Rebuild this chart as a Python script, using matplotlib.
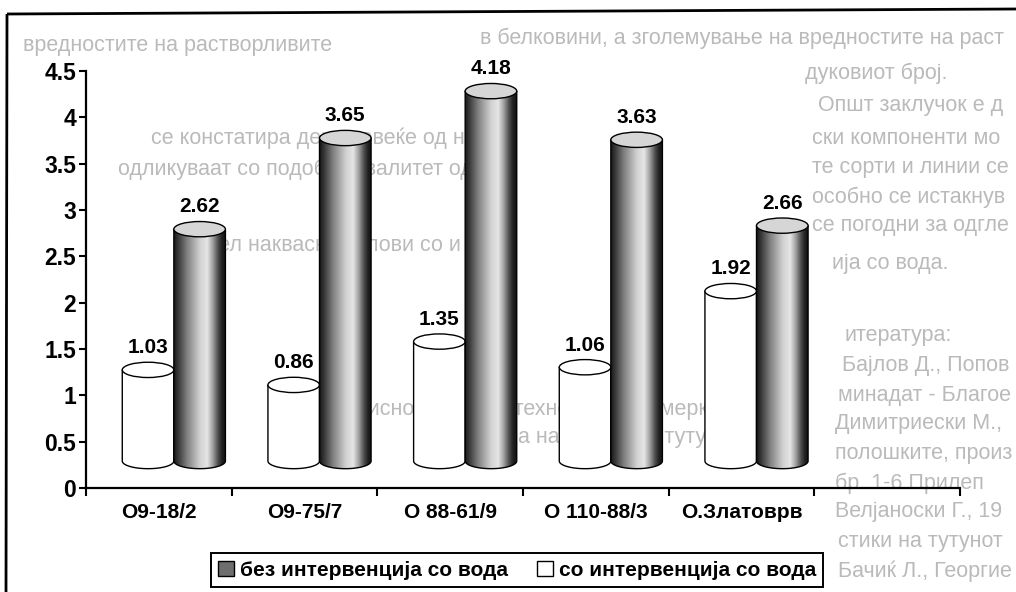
import numpy as np
import matplotlib
matplotlib.use("Agg")
import matplotlib.pyplot as plt
from matplotlib.patches import Ellipse, PathPatch, Patch
from matplotlib.path import Path
from matplotlib.colors import LinearSegmentedColormap

# ---- data -------------------------------------------------------------
categories = ["O9-18/2", "O9-75/7", "O 88-61/9", "O 110-88/3", "O.Златоврв"]
without_water = [2.62, 3.65, 4.18, 3.63, 2.66]   # без интервенција со вода
with_water = [1.03, 0.86, 1.35, 1.06, 1.92]      # со интервенција со вода
series_labels = ["без интервенција со вода", "со интервенција со вода"]
y_ticks = [0, 0.5, 1, 1.5, 2, 2.5, 3, 3.5, 4, 4.5]
y_tick_labels = ["0", "0.5", "1", "1.5", "2", "2.5", "3", "3.5", "4", "4.5"]

# ---- style / projection constants -----------------------------------
N_SLOTS = 6            # category axis keeps one empty slot at the end
CYL_W = 0.354          # cylinder width (category units)
DEPTH_DX = 0.103       # sideways shift of the 3-D floor
DEPTH_DY = 0.291       # upward shift of the 3-D floor (value units)
HEIGHT_SCALE = 0.955   # value scale on the bar plane
ELL_H = 0.165          # height of the end ellipses (value units)
FONT = "Liberation Sans"
GHOST = "#bababa"

plt.rcParams["font.family"] = [FONT, "DejaVu Sans"]

fig = plt.figure(figsize=(10.16, 5.92), dpi=100)
fig.patch.set_facecolor("white")

# background layer in pixel coordinates (page text and frame)
bg = fig.add_axes([0, 0, 1, 1], zorder=0)
bg.set_xlim(0, 1016)
bg.set_ylim(592, 0)
bg.axis("off")

page_lines = [
    (480, 38, "в белковини, а зголемување на вредностите на растворливите", "left"),
    (805, 73, "дуковиот број.", "left"),
    (818, 106, "Општ заклучок е дека врз основа на вредностите", "left"),
    (812, 138, "ски компоненти може да се констатира", "left"),
    (812, 167, "те сорти и линии се одликуваат", "left"),
    (812, 197, "особно се истакнуваат перспективните", "left"),
    (812, 226, "се погодни за одгледување", "left"),
    (832, 264, "ија со вода.", "left"),
    (845, 336, "итература:", "left"),
    (842, 366, "Бајлов Д., Попов М., 1993.", "left"),
    (838, 395, "минадат - Благоевград", "left"),
    (835, 424, "Димитриески М., Н., Г. 1992.", "left"),
    (835, 453, "полошките, производството", "left"),
    (835, 483, "бр. 1-6 Прилеп", "left"),
    (835, 511, "Велјаноски Г., 1979.", "left"),
    (838, 541, "стики на тутунот сорта „Мак“", "left"),
    (838, 571, "Бачиќ Л., Георгиевски", "left"),
    (23, 45, "вредностите на растворливите", "left"),
    (500, 138, "се констатира дека повеќе од ново", "right"),
    (500, 169, "одликуваат со подобар квалитет од ст", "right"),
    (500, 245, "на дел наквасно услови со и без", "right"),
    (720, 410, "1992. Зависност на агротехнолошките мерки", "right"),
    (760, 437, "со примена на различни тутуни од", "right"),
]
page_texts = []
for px, py, txt, ha in page_lines:
    page_texts.append(bg.text(px, py, txt, ha=ha, va="center", fontsize=15.5,
                              color=GHOST, family=[FONT, "DejaVu Sans"]))

# scanned frame around the chart
bg.plot([7, 1016], [14, 9], color="black", lw=2.0, solid_capstyle="butt")
bg.plot([7, 6], [14, 592], color="black", lw=2.0, solid_capstyle="butt")

# ---- chart axes -------------------------------------------------------
ax = fig.add_axes([86 / 1016, 104 / 592, 874 / 1016, 417 / 592], zorder=1)
ax.patch.set_alpha(0)
ax.set_xlim(0, N_SLOTS)
ax.set_ylim(0, 4.5)

for side in ("top", "right"):
    ax.spines[side].set_visible(False)
for side in ("left", "bottom"):
    ax.spines[side].set_linewidth(1.6)
    ax.spines[side].set_color("black")

ax.set_yticks(y_ticks)
ax.set_yticklabels(y_tick_labels, fontsize=16.5, fontweight="bold")
ax.tick_params(axis="y", direction="out", length=5, width=1.5, pad=2)

ax.set_xticks(np.arange(N_SLOTS + 1))
ax.set_xticklabels([])
ax.tick_params(axis="x", which="major", direction="out", length=6, width=1.5)
ax.set_xticks(np.arange(len(categories)) + 0.5, minor=True)
ax.set_xticklabels(categories, minor=True, fontsize=15, fontweight="bold")
ax.tick_params(axis="x", which="minor", length=0, pad=11)

# shading for the dark cylinders (left rim dark, highlight right of centre)
stops = [0.0, 0.08, 0.25, 0.5, 0.64, 0.75, 0.85, 0.93, 1.0]
levels = [0.10, 0.22, 0.50, 0.82, 0.90, 0.62, 0.30, 0.12, 0.08]
shade_cmap = LinearSegmentedColormap.from_list(
    "cyl", [(s, (g, g, g)) for s, g in zip(stops, levels)])
shade_img = np.linspace(0, 1, 256)[None, :]


def cylinder(x0, value, shaded, z):
    x1 = x0 + CYL_W
    xc = x0 + CYL_W / 2
    base = DEPTH_DY
    top = DEPTH_DY + HEIGHT_SCALE * value
    hh = ELL_H / 2
    t = np.linspace(0, -np.pi, 80)
    arc = list(zip(xc + CYL_W / 2 * np.cos(t), base + hh * np.sin(t)))
    verts = [(x0, top), (x1, top)] + arc + [(x0, top)]
    codes = [Path.MOVETO] + [Path.LINETO] * (len(verts) - 2) + [Path.CLOSEPOLY]
    body_path = Path(verts, codes)

    if shaded:
        clip = PathPatch(body_path, facecolor="none", edgecolor="none",
                         transform=ax.transData)
        ax.add_patch(clip)
        im = ax.imshow(shade_img, cmap=shade_cmap, vmin=0, vmax=1,
                       extent=[x0, x1, base - hh, top], aspect="auto",
                       interpolation="bilinear", zorder=z)
        im.set_clip_path(clip)
        ax.add_patch(PathPatch(body_path, facecolor="none", edgecolor="black",
                               lw=1.0, zorder=z + 0.1))
        cap_color = "#d6d6d6"
    else:
        ax.add_patch(PathPatch(body_path, facecolor="white", edgecolor="black",
                               lw=1.0, zorder=z))
        cap_color = "white"
    ax.add_patch(Ellipse((xc, top), CYL_W, ELL_H, facecolor=cap_color,
                         edgecolor="black", lw=1.0, zorder=z + 0.2))
    ax.annotate(f"{value:.2f}", (xc, top), xytext=(0, 16),
                textcoords="offset points", ha="center", va="center",
                fontsize=15, fontweight="bold", zorder=z + 0.3,
                annotation_clip=False)


for i in range(len(categories)):
    c = i + 0.5 + DEPTH_DX
    cylinder(c - CYL_W, with_water[i], shaded=False, z=3 + i)
    cylinder(c, without_water[i], shaded=True, z=3.5 + i)

ax.set_xlim(0, N_SLOTS)
ax.set_ylim(0, 4.5)

# ---- legend -----------------------------------------------------------
handles = [Patch(facecolor="#6e6e6e", edgecolor="black", lw=1.0),
           Patch(facecolor="white", edgecolor="black", lw=1.0)]
leg = fig.legend(handles, series_labels, ncol=2, loc="center",
                 bbox_to_anchor=(517 / 1016, 1 - 570 / 592),
                 prop={"family": FONT, "weight": "bold", "size": 15},
                 frameon=True, fancybox=False, framealpha=1,
                 edgecolor="black", handlelength=0.75, handleheight=0.75,
                 handletextpad=0.3, columnspacing=1.4, borderpad=0.35,
                 borderaxespad=0)
leg.get_frame().set_linewidth(1.4)
leg.set_zorder(5)

# keep the page text inside the sheet: trim lines that run past the edge
fig.canvas.draw()
renderer = fig.canvas.get_renderer()
width_px = fig.bbox.width
for t in page_texts:
    s = t.get_text()
    while s and t.get_window_extent(renderer).x1 > width_px - 3:
        s = s[:-1].rstrip()
        t.set_text(s)
    ext = t.get_window_extent(renderer)
    while s and ext.x0 < 2:
        s = s[1:].lstrip()
        t.set_text(s)
        ext = t.get_window_extent(renderer)

fig.savefig("out.png", dpi=100, facecolor="white")
